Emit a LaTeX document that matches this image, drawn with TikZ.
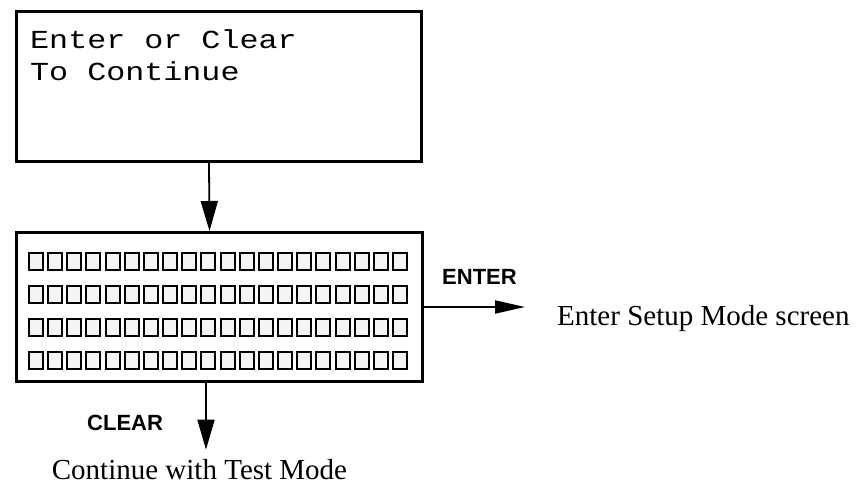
\documentclass[tikz,border=0pt]{standalone}
\usepackage{fontspec}
\setmainfont{Liberation Serif}
\newfontfamily\keyfont{Liberation Sans}
\newfontfamily\lcdfont[FakeStretch=1.22]{Liberation Mono}
\usetikzlibrary{arrows.meta}

\begin{document}
\begin{tikzpicture}[
  x=1pt,y=-1pt,
  screen/.style={rectangle,draw,line width=3.3pt,inner sep=0pt},
  cell/.style={rectangle,draw,fill=black!4,line width=2pt,minimum width=14pt,minimum height=17pt,inner sep=0pt},
  lcdtext/.style={inner sep=0pt,anchor=base west,font=\lcdfont\fontsize{26pt}{32pt}\selectfont},
  keylabel/.style={inner sep=0pt,anchor=base west,font=\keyfont\bfseries\fontsize{22pt}{26pt}\selectfont},
  result/.style={inner sep=0pt,font=\fontsize{29pt}{34pt}\selectfont},
  arrow/.style={-{Triangle[length=30pt,width=17pt]},line width=1.8pt}]
  \useasboundingbox (0,0) rectangle (861,485);
  % prompt screen
  \node[screen,minimum width=404.7pt,minimum height=149.7pt] (prompt) at (219,86.5) {};
  \node[lcdtext] (line1) at (30,48) {Enter or Clear};
  \node[lcdtext] (line2) at (30,80) {To Continue};
  % blank display, 4 rows of 20 cells
  \node[screen,minimum width=405.7pt,minimum height=148.7pt] (lcd) at (219.5,307) {};
  \foreach \r in {1,...,4}
    \foreach \c in {1,...,20}
      \node[cell] (cell-\r-\c) at ({36+19.16*(\c-1)},{261.5+33*(\r-1)}) {};
  \node[keylabel] (enterkey) at (442,284) {ENTER};
  \node[result,anchor=base west] (setup) at (557,325) {Enter Setup Mode screen};
  \node[keylabel] (clearkey) at (87,430) {CLEAR};
  \node[result,anchor=base] (testmode) at (199.5,479) {Continue with Test Mode};
  \draw[arrow] ([xshift=-10pt]prompt.south) -- ([xshift=-10pt]lcd.north);
  \draw[arrow,-{Triangle[length=30pt,width=13pt]},shorten >=32pt] (lcd.east) -- (lcd.east -| setup.west);
  \draw[arrow,shorten >=9pt] ([xshift=-13.5pt]lcd.south) -- ([xshift=-13.5pt]lcd.south |- testmode.north);
\end{tikzpicture}
\end{document}
